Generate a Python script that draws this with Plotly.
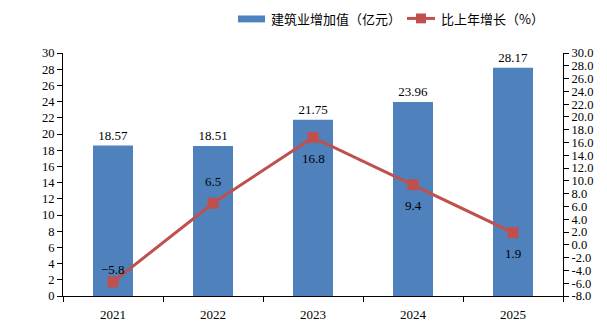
import plotly.graph_objects as go

# Annual construction value added and its year-on-year growth
years = ["2021", "2022", "2023", "2024", "2025"]
value_added = [18.57, 18.51, 21.75, 23.96, 28.17]      # 亿元
growth = [-5.8, 6.5, 16.8, 9.4, 1.9]                     # %
growth_label_side = ["above", "above", "below", "below", "below"]
series_names = ["建筑业增加值（亿元）", "比上年增长（%）"]

left_ticks = list(range(0, 31, 2))
right_ticks = list(range(-8, 31, 2))

BAR_COLOR = "#4F81BD"
LINE_COLOR = "#C0504D"
SERIF = "Liberation Serif, Times New Roman, serif"
CJK = "Noto Sans CJK SC, sans-serif"

W, H = 607, 334
M = dict(l=63, r=44, t=53, b=35)
PW, PH = W - M["l"] - M["r"], H - M["t"] - M["b"]


def px_x(px):
    return (px - M["l"]) / PW


def px_y(py):
    return (H - M["b"] - py) / PH


fig = go.Figure()

fig.add_trace(go.Bar(
    x=years, y=value_added, name=series_names[0],
    marker=dict(color=BAR_COLOR, line=dict(width=0)),
    width=0.4,
    text=[f"{v:.2f}" for v in value_added],
    textposition="outside",
    textfont=dict(family=SERIF, size=13, color="#000000"),
    cliponaxis=False, showlegend=False,
))

fig.add_trace(go.Scatter(
    x=years, y=growth, name=series_names[1], yaxis="y2",
    mode="lines+markers",
    line=dict(color=LINE_COLOR, width=3),
    marker=dict(symbol="square", size=11, color=LINE_COLOR),
    cliponaxis=False, showlegend=False,
))

# Growth labels placed above or below their markers (x given as category index)
for i, (g, side) in enumerate(zip(growth, growth_label_side)):
    txt = f"{g:.1f}".replace("-", "\u2212")
    if side == "above":
        shift = 12 if g < 0 else 22
    else:
        shift = -21
    fig.add_annotation(
        x=i, y=g, xref="x", yref="y2", text=txt, showarrow=False,
        yshift=shift,
        font=dict(family=SERIF, size=13, color="#000000"),
    )

# Legend drawn by hand: wide bar swatch, line-with-marker swatch
ly = 18
fig.add_shape(type="rect", xref="paper", yref="paper",
              x0=px_x(238), x1=px_x(265), y0=px_y(22), y1=px_y(15),
              fillcolor=BAR_COLOR, line=dict(width=0))
fig.add_annotation(xref="paper", yref="paper", x=px_x(269), y=px_y(ly),
                   xanchor="left", yanchor="middle", showarrow=False,
                   text=series_names[0],
                   font=dict(family=CJK, size=13, color="#000000"))
fig.add_shape(type="line", xref="paper", yref="paper",
              x0=px_x(407), x1=px_x(435), y0=px_y(ly), y1=px_y(ly),
              line=dict(color=LINE_COLOR, width=3))
fig.add_shape(type="rect", xref="paper", yref="paper",
              x0=px_x(416), x1=px_x(426), y0=px_y(ly + 5), y1=px_y(ly - 5),
              fillcolor=LINE_COLOR, line=dict(width=0))
fig.add_annotation(xref="paper", yref="paper", x=px_x(439), y=px_y(ly),
                   xanchor="left", yanchor="middle", showarrow=False,
                   text=series_names[1],
                   font=dict(family=CJK, size=13, color="#000000"))

fig.update_layout(
    width=W, height=H,
    margin=M,
    paper_bgcolor="white", plot_bgcolor="white",
    showlegend=False,
    xaxis=dict(
        type="category", range=[-0.5, 4.5],
        showline=True, linecolor="#000000", linewidth=1,
        ticks="outside", tickson="boundaries", ticklen=5, tickcolor="#000000",
        tickfont=dict(family=SERIF, size=13, color="#000000"),
        ticklabelstandoff=6,
        showgrid=False, zeroline=False,
    ),
    yaxis=dict(
        range=[0, 30], tickvals=left_ticks, ticktext=[str(t) for t in left_ticks],
        showline=True, linecolor="#000000", linewidth=1,
        ticks="outside", ticklen=5, tickcolor="#000000",
        tickfont=dict(family=SERIF, size=12.5, color="#000000"),
        showgrid=False, zeroline=False,
    ),
    yaxis2=dict(
        overlaying="y", side="right",
        range=[-8, 30], tickvals=right_ticks,
        ticktext=[f"{t:.1f}" for t in right_ticks],
        showline=True, linecolor="#000000", linewidth=1,
        ticks="outside", ticklen=5, tickcolor="#000000",
        tickfont=dict(family=SERIF, size=12.5, color="#000000"),
        showgrid=False, zeroline=False,
    ),
)

fig.write_html("out.html")
